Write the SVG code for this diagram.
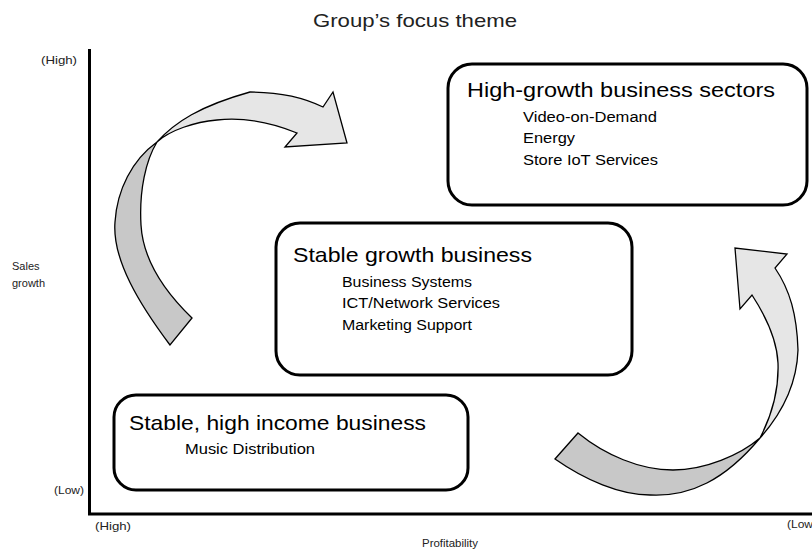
<svg xmlns="http://www.w3.org/2000/svg" width="812" height="552" viewBox="0 0 812 552">
<style>
.box{fill:#fff;stroke:#000;stroke-width:3}
.head{font-family:"Liberation Sans",Arial,sans-serif;font-size:21px;fill:#000}
.item{font-family:"Liberation Sans",Arial,sans-serif;font-size:14px;fill:#000}
.ax{font-family:"Liberation Sans",Arial,sans-serif;font-size:11px;fill:#222}
.dark{fill:#c8c8c8;stroke:#000;stroke-width:1.3;stroke-linejoin:miter}
.light{fill:#e6e6e6;stroke:#000;stroke-width:1.3;stroke-linejoin:miter}
.axis{stroke:#000;stroke-width:3;fill:none}
</style>
<rect width="812" height="552" fill="#fff"/>
<text x="415" y="27" text-anchor="middle" font-family="'Liberation Sans',Arial,sans-serif" font-size="19" fill="#222" textLength="204" lengthAdjust="spacingAndGlyphs">Group’s focus theme</text>
<g id="axes">
<path class="axis" d="M89.5,49 V514 H812"/>
<text class="ax" x="41" y="64" textLength="36" lengthAdjust="spacingAndGlyphs">(High)</text>
<text class="ax" x="12" y="270">Sales</text>
<text class="ax" x="12" y="287">growth</text>
<text class="ax" x="54" y="494" textLength="30" lengthAdjust="spacingAndGlyphs">(Low)</text>
<text class="ax" x="95" y="530" textLength="36" lengthAdjust="spacingAndGlyphs">(High)</text>
<text class="ax" x="787" y="528" textLength="26" lengthAdjust="spacingAndGlyphs">(Low</text>
<text class="ax" x="450" y="547" text-anchor="middle" textLength="56" lengthAdjust="spacingAndGlyphs">Profitability</text>
</g>
<g id="connectors">
<g id="arrow-up">
<path class="dark" d="M170,345 C140,305 112,260 115,222 C117,190 132,160 157,142 C146,160 139,190 141,225 C143,260 163,290 192,318 Z"/>
<path class="light" d="M157,142 C175,122 200,106 250,92 C280,92 305,98 323,107 L333,92 L347,143 L285,147 L297,133 C270,122 245,117 217,120 C195,122 170,130 157,142 Z"/>
</g>
<g id="arrow-down">
<path class="dark" d="M555,459 C585,480 620,495 650,495 C690,497 725,480 760,438 C740,455 705,470 673,470 C640,470 605,455 578,433 Z"/>
<path class="light" d="M760,438 C785,410 797,380 798,350 C797,315 790,290 775,268 L787,254 L735,248 L740,309 L752,295 C765,315 777,340 778,363 C779,390 772,415 760,438 Z"/>
</g>
</g>
<g id="node-high-growth">
<rect class="box" x="448" y="64" width="359" height="141" rx="24"/>
<text class="head" x="467" y="97" textLength="308" lengthAdjust="spacingAndGlyphs">High-growth business sectors</text>
<text class="item" x="523" y="122" textLength="134" lengthAdjust="spacingAndGlyphs">Video-on-Demand</text>
<text class="item" x="523" y="143" textLength="52" lengthAdjust="spacingAndGlyphs">Energy</text>
<text class="item" x="523" y="165" textLength="135" lengthAdjust="spacingAndGlyphs">Store IoT Services</text>
</g>
<g id="node-stable-growth">
<rect class="box" x="276" y="223" width="356" height="152" rx="24"/>
<text class="head" x="293" y="262" textLength="239" lengthAdjust="spacingAndGlyphs">Stable growth business</text>
<text class="item" x="342" y="287" textLength="130" lengthAdjust="spacingAndGlyphs">Business Systems</text>
<text class="item" x="342" y="308" textLength="158" lengthAdjust="spacingAndGlyphs">ICT/Network Services</text>
<text class="item" x="342" y="330" textLength="130" lengthAdjust="spacingAndGlyphs">Marketing Support</text>
</g>
<g id="node-stable-income">
<rect class="box" x="114" y="395" width="354" height="95" rx="22"/>
<text class="head" x="129" y="430" textLength="297" lengthAdjust="spacingAndGlyphs">Stable, high income business</text>
<text class="item" x="185" y="454" textLength="130" lengthAdjust="spacingAndGlyphs">Music Distribution</text>
</g>
</svg>
